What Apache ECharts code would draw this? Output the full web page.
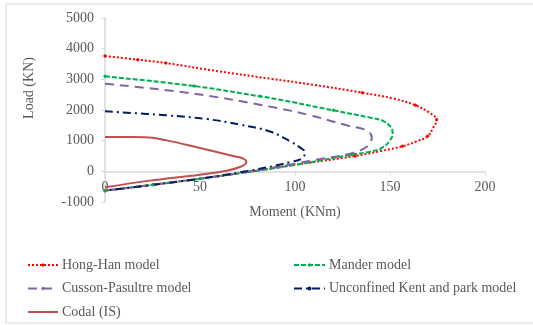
<!DOCTYPE html>
<html>
<head>
<meta charset="utf-8">
<script src="https://cdn.jsdelivr.net/npm/echarts@6/dist/echarts.min.js"></script>
<style>
html,body{margin:0;padding:0;background:#fff;}
#chart{width:533px;height:325px;}
</style>
</head>
<body>
<div id="chart"></div>
<script>
// Series names
const seriesNames = ["Hong-Han model", "Mander model", "Cusson-Pasultre model", "Unconfined Kent and park model", "Codal (IS)"];

// Hong-Han model (Moment KNm, Load KN)
const hongHanM = [0, 17.2, 32, 60, 86.8, 110, 135.4, 152, 163.5, 171, 174.5, 172.5, 169.8, 164, 156.5, 145, 131.6, 100, 75, 50, 25, 0];
const hongHanP = [3760, 3641, 3531, 3260, 3022, 2820, 2565, 2370, 2152, 1900, 1680, 1400, 1141, 980, 815, 660, 499, 215, -20, -240, -440, -630];
const hongHanMarked = [1,1,1,0,0,0,1,0,1,0,1,0,1,0,1,0,1,0,0,0,0,1];

// Mander model
const manderM = [0, 47, 81.6, 92, 120.2, 139.5, 146.5, 150.9, 151.4, 150, 146, 139.5, 129.8, 100, 75, 50, 25, 0];
const manderP = [3097, 2781, 2445, 2337, 1989, 1751, 1640, 1392, 1227, 1010, 770, 640, 544, 210, -25, -240, -440, -630];
const manderMarked = [1,1,1,0,1,0,0,0,0,0,0,0,1,0,0,1,1,1];

// Cusson-Pasultre model
const cussonM = [0, 46.5, 86.8, 108, 127.2, 137.7, 140.4, 137.7, 129, 115, 100, 75, 50, 25, 0];
const cussonP = [2859, 2533, 2110, 1826, 1500, 1337, 1100, 800, 577, 420, 250, -20, -240, -440, -630];

// Unconfined Kent and park model
const kentM = [0, 32.5, 53.5, 71, 86.8, 97.4, 103.5, 105.3, 103.5, 97.4, 90.4, 75, 50, 25, 0];
const kentP = [1956, 1826, 1705, 1522, 1300, 978, 740, 620, 414, 303, 196, 10, -240, -440, -630];

// Codal (IS)
const codalM = [0, 21, 32.5, 50, 58.8, 67.4, 72.8, 74.4, 71, 64, 50, 23.7, 0];
const codalP = [1118, 1112, 1010, 760, 630, 500, 414, 300, 140, 20, -108, -303, -520];

// Axis ticks
const xTicks = [0, 50, 100, 150, 200];
const yTicks = [-1000, 0, 1000, 2000, 3000, 4000, 5000];

const zip = (a, b) => a.map((v, i) => [v, b[i]]);

const txt = '#595959';
const font = '"Liberation Serif", "Times New Roman", serif';

const gridTop = 18, gridBottom = 123, chartH = 325;
const gridH = chartH - gridTop - gridBottom;
const yMin = yTicks[0], yMax = yTicks[yTicks.length - 1];
// shift the x axis up so it sits on Load = 0
const xAxisOffset = -gridH * (0 - yMin) / (yMax - yMin);

function lineSeries(name, data, color, type, marked, symbol) {
  return {
    name, type: 'line', data,
    smooth: 0.4,
    showSymbol: !!marked,
    symbol: symbol,
    symbolSize: marked ? ((v, p) => marked[p.dataIndex] ? 4 : 0) : 0,
    itemStyle: { color },
    lineStyle: { color, width: 2, type },
    z: 3,
    animation: false
  };
}

const legendText = { color: txt, fontSize: 14, fontFamily: font, padding: [0, 0, 0, -1] };

const chart = echarts.init(document.getElementById('chart'));
chart.setOption({
  animation: false,
  backgroundColor: '#fff',
  textStyle: { fontFamily: font, color: txt },
  grid: { left: 105, right: 48, top: gridTop, bottom: gridBottom },
  xAxis: {
    type: 'value', min: xTicks[0], max: xTicks[xTicks.length - 1], interval: 50,
    offset: xAxisOffset,
    axisLine: { onZero: false, lineStyle: { color: '#D9D9D9', width: 1.5 } },
    axisTick: { show: true, length: 4, lineStyle: { color: '#D9D9D9' } },
    axisLabel: { color: txt, fontSize: 14, fontFamily: font, margin: 9 },
    splitLine: { show: false }
  },
  yAxis: {
    type: 'value', min: yMin, max: yMax, interval: 1000,
    axisLine: { show: true, onZero: false, lineStyle: { color: '#D9D9D9', width: 1.5 } },
    axisTick: { show: true, length: 4, lineStyle: { color: '#D9D9D9' } },
    axisLabel: { color: txt, fontSize: 14, fontFamily: font, margin: 11, formatter: v => String(v) },
    splitLine: { show: false }
  },
  legend: [
    {
      left: 27, top: 258, orient: 'vertical', itemWidth: 30, itemHeight: 5, itemGap: 9.5, padding: 0,
      textStyle: legendText,
      data: [
        { name: seriesNames[0] },
        { name: seriesNames[2] },
        { name: seriesNames[4], itemStyle: { opacity: 0 } }
      ]
    },
    {
      left: 293, top: 258, orient: 'vertical', itemWidth: 31, itemHeight: 5, itemGap: 9.5, padding: 0,
      textStyle: legendText,
      data: [{ name: seriesNames[1] }, { name: seriesNames[3] }]
    }
  ],
  graphic: [
    { type: 'rect', shape: { x: 6, y: 4, width: 700, height: 319 }, style: { fill: 'none', stroke: '#D9D9D9', lineWidth: 1 }, silent: true, z: -1 },
    { type: 'text', x: 29, y: 88, rotation: Math.PI / 2, style: { text: 'Load (KN)', fill: txt, font: '14px ' + font, align: 'center', verticalAlign: 'middle' } },
    { type: 'text', x: 295, y: 212, style: { text: 'Moment (KNm)', fill: txt, font: '14px ' + font, align: 'center', verticalAlign: 'middle' } }
  ],
  series: [
    lineSeries(seriesNames[0], zip(hongHanM, hongHanP), '#FF0000', [2, 2], hongHanMarked, 'diamond'),
    lineSeries(seriesNames[1], zip(manderM, manderP), '#00B050', [5, 2], manderMarked, 'diamond'),
    lineSeries(seriesNames[2], zip(cussonM, cussonP), '#8064A2', [9, 6], null, 'diamond'),
    lineSeries(seriesNames[3], zip(kentM, kentP), '#002060', [8, 4, 2, 4], null, 'circle'),
    lineSeries(seriesNames[4], zip(codalM, codalP), '#C0504D', 'solid', null, 'circle')
  ]
});
</script>
</body>
</html>
